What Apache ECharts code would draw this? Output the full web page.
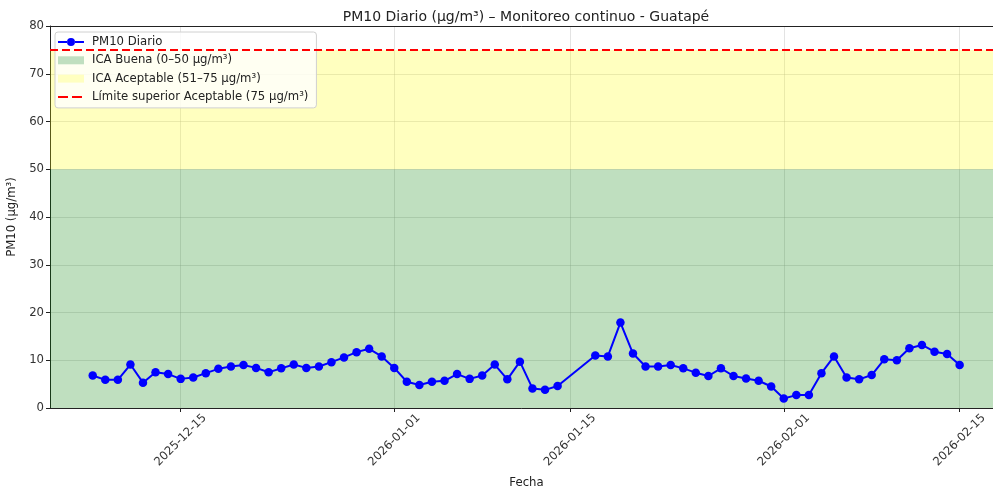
<!DOCTYPE html>
<html>
<head>
<meta charset="utf-8">
<script src="https://cdn.jsdelivr.net/npm/echarts@6/dist/echarts.min.js"></script>
<style>
html,body{margin:0;padding:0;background:#fff;}
#chart{width:993px;height:493px;}
</style>
</head>
<body>
<div id="chart"></div>
<script>
// ---- Data ----
const dates = [
  '2025-12-08','2025-12-09','2025-12-10','2025-12-11','2025-12-12','2025-12-13','2025-12-14',
  '2025-12-15','2025-12-16','2025-12-17','2025-12-18','2025-12-19','2025-12-20','2025-12-21',
  '2025-12-22','2025-12-23','2025-12-24','2025-12-25','2025-12-26','2025-12-27','2025-12-28',
  '2025-12-29','2025-12-30','2025-12-31',
  '2026-01-01','2026-01-02','2026-01-03','2026-01-04','2026-01-05','2026-01-06','2026-01-07',
  '2026-01-08','2026-01-09','2026-01-10','2026-01-11','2026-01-12','2026-01-13','2026-01-14',
  '2026-01-17','2026-01-18','2026-01-19','2026-01-20','2026-01-21','2026-01-22','2026-01-23',
  '2026-01-24','2026-01-25','2026-01-26','2026-01-27','2026-01-28','2026-01-29','2026-01-30',
  '2026-01-31',
  '2026-02-01','2026-02-02','2026-02-03','2026-02-04','2026-02-05','2026-02-06','2026-02-07',
  '2026-02-08','2026-02-09','2026-02-10','2026-02-11','2026-02-12','2026-02-13','2026-02-14',
  '2026-02-15'
];
const pm10 = [
  6.8, 5.9, 5.9, 9.1, 5.3, 7.5, 7.1,
  6.1, 6.4, 7.3, 8.2, 8.7, 9.0, 8.4,
  7.5, 8.3, 9.1, 8.4, 8.7, 9.6, 10.6,
  11.7, 12.4, 10.8,
  8.4, 5.5, 4.8, 5.5, 5.7, 7.1, 6.1,
  6.8, 9.1, 6.0, 9.7, 4.1, 3.8, 4.6,
  11.0, 10.8, 17.9, 11.4, 8.7, 8.7, 9.0,
  8.3, 7.4, 6.7, 8.3, 6.7, 6.2, 5.7,
  4.5,
  2.0, 2.7, 2.7, 7.3, 10.8, 6.4, 6.0,
  6.9, 10.2, 10.0, 12.5, 13.2, 11.8, 11.3,
  9.0
];
const xTickLabels = ['2025-12-15','2026-01-01','2026-01-15','2026-02-01','2026-02-15'];
const bandBuena = [0, 50];
const bandAceptable = [50, 75];
const limiteAceptable = 75;
const yRange = [0, 80, 10];

const names = {
  line: 'PM10 Diario',
  buena: 'ICA Buena (0–50 µg/m³)',
  aceptable: 'ICA Aceptable (51–75 µg/m³)',
  limite: 'Límite superior Aceptable (75 µg/m³)'
};

// ---- Helpers ----
function toTs(s){ const p = s.split('-').map(Number); return Date.UTC(p[0], p[1]-1, p[2]); }
const DAY = 86400000;
const tickTs = xTickLabels.map(toTs);
const seriesData = dates.map((d,i)=>[toTs(d), pm10[i]]);
const xMin = toTs(dates[0]) - 3.4*DAY;
const xMax = toTs(dates[dates.length-1]) + 3.45*DAY;

const FONT = 'DejaVu Sans';
const FS = 11.7;
const GREEN = 'rgba(0,128,0,0.25)';
const YELLOW = 'rgba(255,255,0,0.25)';
const GRIDC = 'rgba(176,176,176,0.35)';
// legend icons (26 x 8 box)
const ICON_DASH = 'path://M0,0h0.01v0.01h-0.01z M0,3h10v2h-10z M14,3h10v2h-10z M26,8h0.01v0.01h-0.01z';
const ICON_LINE = 'path://M0,0h0.01v0.01h-0.01z M0,3.1h9.2v1.8h-9.2z M16.8,3.1h9.2v1.8h-9.2z M13,0a4,4 0 1,0 0.001,0z M26,8h0.01v0.01h-0.01z';

const chart = echarts.init(document.getElementById('chart'), null, {renderer:'canvas'});
chart.setOption({
  animation: false,
  backgroundColor: '#fff',
  textStyle: {fontFamily: FONT},
  title: {
    text: 'PM10 Diario (µg/m³) – Monitoreo continuo - Guatapé',
    left: 521, top: 5, textAlign: 'center',
    textStyle: {fontFamily: FONT, fontSize: 14, fontWeight: 'normal', color: '#222'}
  },
  grid: {
    left: 50, right: -10, top: 26, bottom: 85,
    show: false,
    containLabel: false, outerBoundsMode: 'none'
  },
  legend: {
    orient: 'vertical', left: 55, top: 32,
    selectedMode: false,
    itemWidth: 26, itemHeight: 8, itemGap: 6.3,
    padding: [4, 8, 5, 3],
    backgroundColor: 'rgba(255,255,255,0.8)', borderColor: '#d0d0d0', borderWidth: 1, borderRadius: 3,
    textStyle: {fontFamily: FONT, fontSize: FS, color: '#222', padding: [0,0,0,3]},
    data: [
      {name: names.line, icon: ICON_LINE, itemStyle: {color: '#0000ff', borderWidth: 0}},
      {name: names.buena, icon: 'rect', itemStyle: {color: '#c0dfc0', borderWidth: 0}},
      {name: names.aceptable, icon: 'rect', itemStyle: {color: '#ffffc0', borderWidth: 0}},
      {name: names.limite, icon: ICON_DASH, itemStyle: {color: '#ff0000', borderWidth: 0}}
    ]
  },
  xAxis: [{
    type: 'value', min: xMin, max: xMax,
    name: 'Fecha', nameLocation: 'middle', nameGap: 69,
    nameTextStyle: {fontFamily: FONT, fontSize: FS, color: '#222'},
    axisLine: {show: true, lineStyle: {color: '#222', width: 1}},
    axisTick: {show: true, customValues: tickTs, length: 4, lineStyle: {color: '#222'}},
    axisLabel: {
      customValues: tickTs, rotate: 45, align: 'center', verticalAlign: 'middle', margin: 32,
      fontFamily: FONT, fontSize: FS, color: '#333', hideOverlap: false,
      formatter: function(v){ const i = tickTs.indexOf(v); return i >= 0 ? xTickLabels[i] : ''; }
    },
    splitLine: {show: true, customValues: tickTs, lineStyle: {color: GRIDC, width: 1}}
  }, {
    type: 'value', position: 'top', min: xMin, max: xMax,
    axisLine: {show: true, onZero: false, lineStyle: {color: '#222', width: 1}},
    axisTick: {show: false}, axisLabel: {show: false}, splitLine: {show: false}
  }],
  yAxis: {
    type: 'value', min: yRange[0], max: yRange[1], interval: yRange[2],
    name: 'PM10 (µg/m³)', nameLocation: 'middle', nameGap: 28, nameRotate: 90,
    nameTextStyle: {fontFamily: FONT, fontSize: FS, color: '#222'},
    axisLine: {show: true, lineStyle: {color: '#222', width: 1}},
    axisTick: {show: true, length: 4, lineStyle: {color: '#222'}},
    axisLabel: {fontFamily: FONT, fontSize: FS, color: '#333', margin: 6},
    splitLine: {show: true, lineStyle: {color: GRIDC, width: 1}}
  },
  series: [
    {
      name: names.buena, type: 'line', data: [], symbol: 'none',
      itemStyle: {color: '#c0dfc0'}, lineStyle: {color: '#c0dfc0'},
      markArea: {silent: true, itemStyle: {color: GREEN}, data: [[{yAxis: bandBuena[0]}, {yAxis: bandBuena[1]}]]}
    },
    {
      name: names.aceptable, type: 'line', data: [], symbol: 'none',
      itemStyle: {color: '#ffffc0'}, lineStyle: {color: '#ffffc0'},
      markArea: {silent: true, itemStyle: {color: YELLOW}, data: [[{yAxis: bandAceptable[0]}, {yAxis: bandAceptable[1]}]]}
    },
    {
      name: names.limite, type: 'line', data: [], symbol: 'none',
      itemStyle: {color: '#ff0000'}, lineStyle: {color: '#ff0000', width: 2, type: [8, 4]},
      markLine: {
        silent: true, symbol: 'none', label: {show: false},
        lineStyle: {color: '#ff0000', width: 2, type: [8, 4]},
        data: [{yAxis: limiteAceptable}]
      }
    },
    {
      name: names.line, type: 'line', data: seriesData, z: 5,
      symbol: 'circle', symbolSize: 8.5, showSymbol: true,
      itemStyle: {color: '#0000ff'}, lineStyle: {color: '#0000ff', width: 2}
    }
  ]
});
</script>
</body>
</html>
